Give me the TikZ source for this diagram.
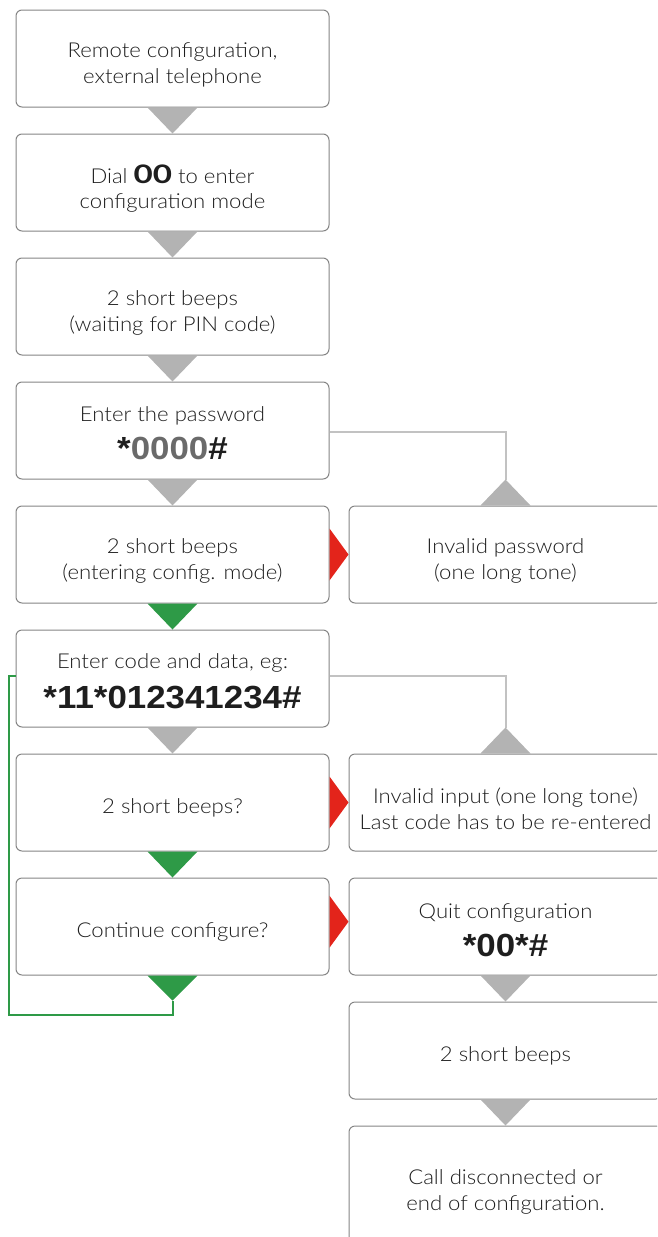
\documentclass[tikz,border=0pt]{standalone}
\usepackage{fontspec}
\setmainfont{Lato Light}[FakeStretch=1.08, BoldFont={Lato Bold}]
\newfontfamily\codefont{Liberation Sans}[FakeStretch=1.09]
\newfontfamily\heavyfont{Lato}[FakeStretch=1.3]
\definecolor{boxgray}{HTML}{858585}
\definecolor{txt}{HTML}{1E1E1E}
\definecolor{arrgray}{HTML}{B3B3B3}
\definecolor{linegray}{HTML}{C2C2C2}
\definecolor{okgreen}{HTML}{2E9A47}
\definecolor{errred}{HTML}{E3241B}
\definecolor{codegray}{HTML}{6A6A6A}
\newcommand{\codetxt}[1]{{\codefont\bfseries\fontsize{32}{34}\selectfont #1}}
% \flowbox{name}{center}{text shift down}{height}{text}
\newcommand{\flowbox}[5]{%
  \node[box, minimum height=#4pt] (#1) at (#2) {};
  \node[boxtext] (#1-t) at ([yshift=-#3pt]#1.center) {#5};}
\begin{document}
\begin{tikzpicture}[x=1pt,y=-1pt,
  box/.style={draw=boxgray, fill=white, line width=1pt, rounded corners=6pt,
    minimum width=313pt, inner sep=0pt},
  boxtext/.style={align=center, inner sep=0pt, text=txt,
    font=\fontsize{20.5}{25.5}\selectfont},
  grayarrow/.style={fill=arrgray},
  greenarrow/.style={fill=okgreen},
  redarrow/.style={fill=errred},
  conn/.style={draw=linegray, line width=2pt},
  loopline/.style={draw=okgreen, line width=2pt}]
\useasboundingbox (0,0) rectangle (657,1237);
\clip (0,0) rectangle (657,1237);
% left column
\flowbox{b1}{172.5,58.5}{6.5}{97}{Remote configuration,\\external telephone}
\flowbox{b2}{172.5,182.5}{6}{97}{Dial {\heavyfont\bfseries\fontsize{25.5}{25}\selectfont 00} to enter\\configuration mode}
\flowbox{b3}{172.5,306.5}{6.5}{97}{2 short beeps\\(waiting for PIN code)}
\flowbox{b4}{172.5,430.5}{3}{97}{Enter the password\\[11pt]\codetxt{*\textcolor{codegray}{0000}\#}}
\flowbox{b5}{172.5,554.5}{6.5}{97}{2 short beeps\\(entering config. mode)}
\flowbox{b6}{172.5,678.5}{2.8}{97}{Enter code and data, eg:\\[12.5pt]\codetxt{*11*012341234\#}}
\flowbox{b7}{172.5,802.5}{5}{97}{2 short beeps?}
\flowbox{b8}{172.5,926.5}{5}{97}{Continue configure?}
% right column
\flowbox{r1}{505.5,554.5}{6.5}{97}{Invalid password\\(one long tone)}
\flowbox{r2}{505.5,802.5}{6.5}{97}{Invalid input (one long tone)\\Last code has to be re-entered}
\flowbox{r3}{505.5,926.5}{3.8}{97}{Quit configuration\\[10.5pt]\codetxt{*00*\#}}
\flowbox{r4}{505.5,1050.5}{5}{97}{2 short beeps}
\flowbox{r5}{505.5,1186}{6}{120}{Call disconnected or\\end of configuration.}
% gray down arrows
\foreach \a/\b in {b1/b2,b2/b3,b3/b4,b4/b5,b6/b7,r3/r4,r4/r5}
  \fill[grayarrow] ([xshift=-25pt]\a.south) -- ([xshift=25pt]\a.south) -- (\b.north) -- cycle;
% green down arrows
\foreach \a/\b in {b5/b6,b7/b8}
  \fill[greenarrow] ([xshift=-25pt]\a.south) -- ([xshift=25pt]\a.south) -- (\b.north) -- cycle;
\coordinate (g) at ([yshift=-25pt]b8.south);
\coordinate (loop) at (9,1015);
\draw[loopline] (g) |- (loop) |- ([yshift=2.5pt]b6.west);
\fill[greenarrow] ([xshift=-25pt]b8.south) -- ([xshift=25pt]b8.south) -- (g) -- cycle;
% gray branch connectors
\draw[conn] ([yshift=-1.5pt]b4.east) -| ([yshift=26pt]r1.north);
\fill[grayarrow] ([xshift=-25pt]r1.north) -- ([xshift=25pt]r1.north) -- ([yshift=26pt]r1.north) -- cycle;
\draw[conn] ([yshift=2.5pt]b6.east) -| ([yshift=26pt]r2.north);
\fill[grayarrow] ([xshift=-25pt]r2.north) -- ([xshift=25pt]r2.north) -- ([yshift=26pt]r2.north) -- cycle;
% red arrows
\fill[redarrow] ([yshift=26pt]b5.east) -- ([yshift=-26pt]b5.east) -- (r1.west) -- cycle;
\fill[redarrow] ([yshift=26pt]b7.east) -- ([yshift=-26pt]b7.east) -- (r2.west) -- cycle;
\fill[redarrow] ([yshift=30.8pt]b8.east) -- ([yshift=-21.2pt]b8.east) -- ([yshift=4.8pt]r3.west) -- cycle;
\end{tikzpicture}
\end{document}
